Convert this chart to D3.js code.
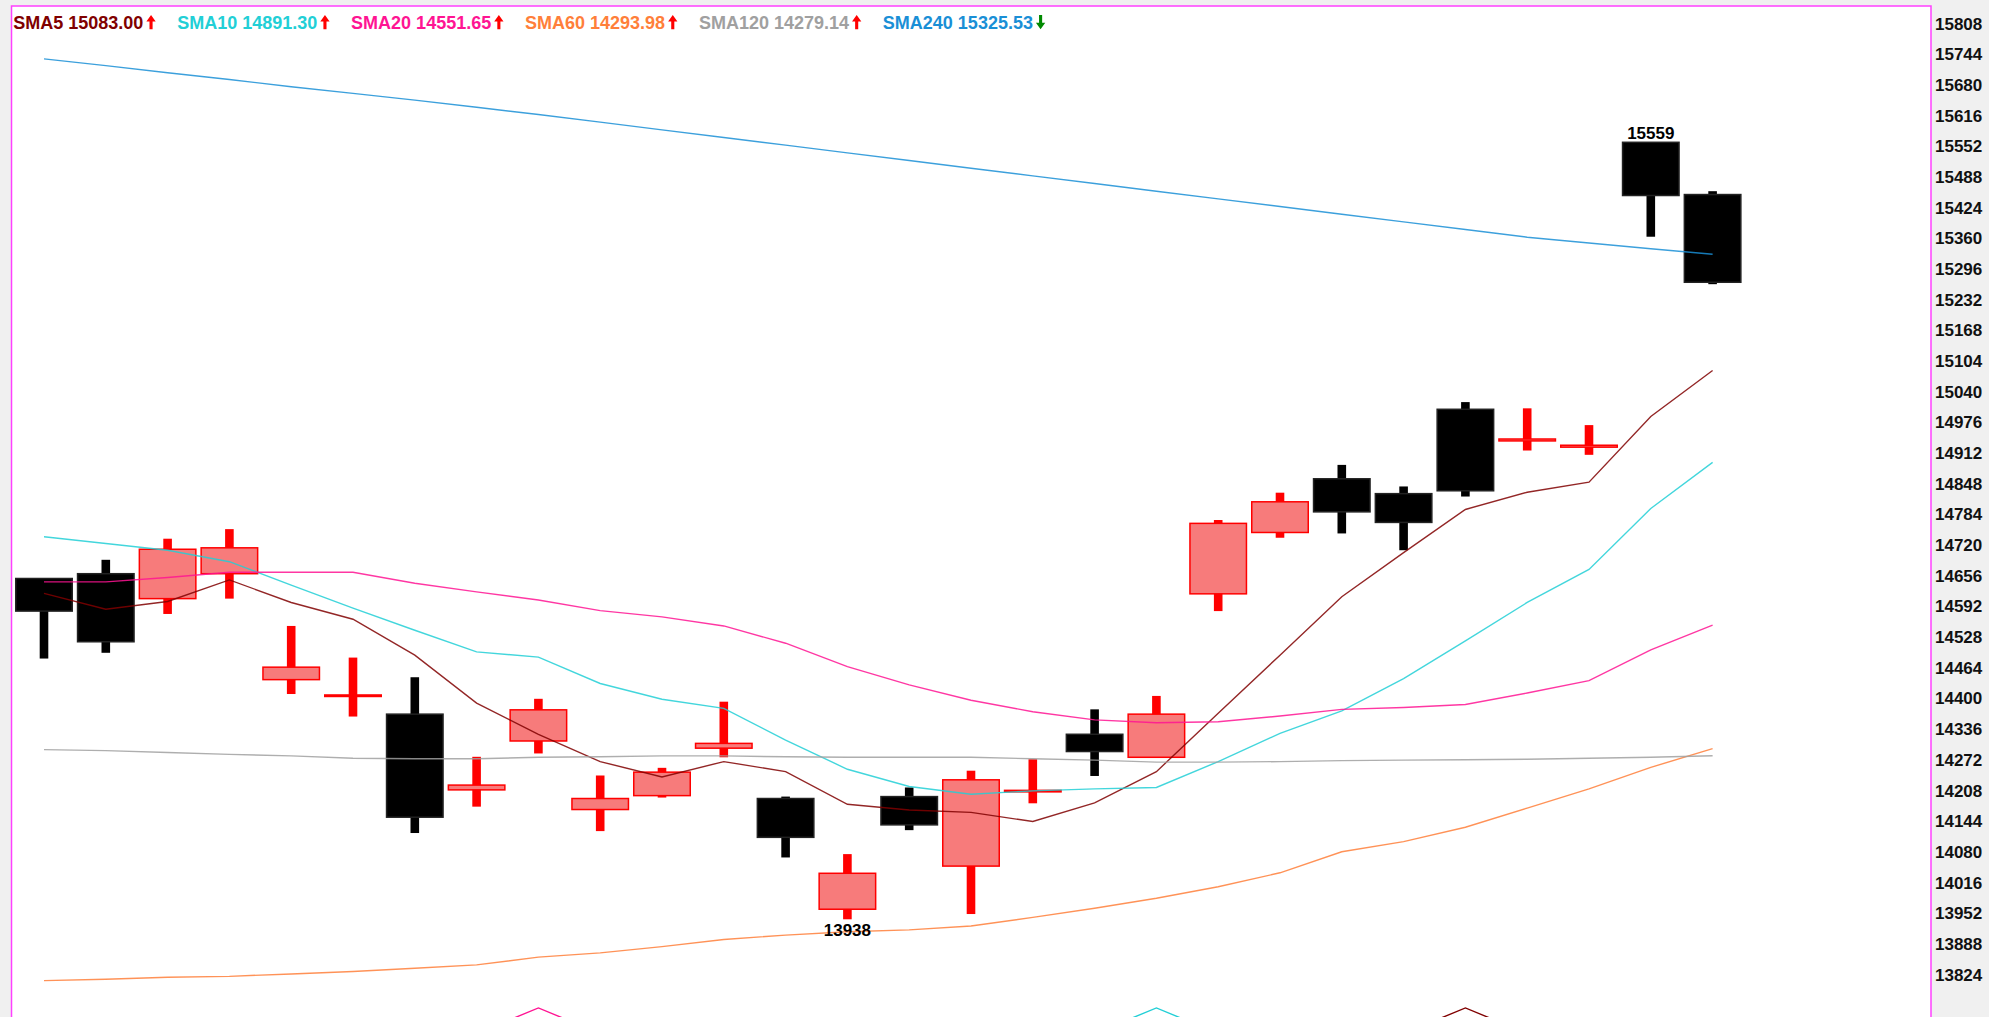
<!DOCTYPE html>
<html><head><meta charset="utf-8">
<script src="https://cdn.jsdelivr.net/npm/d3@7"></script>
<style>html,body{margin:0;padding:0;background:#f0f0f0;overflow:hidden}svg{display:block}</style>
</head><body>
<svg id="chart" width="1989" height="1017"></svg>
<script>
// ---------------- data ----------------
const days = ["1","2","3","4","5","6","7","8","9","10","11","12","13","14","15","16","17","18","19","20","21","22","23","24","25","26","27","28"];
const open  = [14649,14659,14607,14659,14438,14403,14366,14208,14310,14167,14196,14295,14190,13959,14194,14049,14204,14324,14276,14617,14745,14857,14826,15002,14936,14923,15559,15450];
const high  = [14649,14688,14732,14752,14550,14484,14443,14277,14398,14238,14254,14392,14194,14074,14213,14248,14272,14376,14404,14771,14828,14886,14841,15017,15004,14969,15559,15457];
const low   = [14482,14494,14575,14607,14408,14361,14118,14173,14284,14122,14192,14276,14067,13938,14124,13949,14180,14237,14276,14581,14734,14743,14708,14820,14916,14907,15362,15263];
const close = [14581,14517,14710,14713,14464,14406,14151,14218,14375,14190,14245,14305,14109,14034,14135,14229,14207,14288,14366,14764,14809,14788,14766,14832,14940,14927,15448,15267];

const sma5   = [14618,14585,14601,14646,14599,14564,14489,14389,14324,14267,14235,14267,14246,14178,14166,14161,14142,14181,14246,14368,14489,14611,14703,14793,14829,14850,14987,15083.00];
const sma10  = [14736,14722,14708,14684,14635,14587,14541,14496,14485,14430,14397,14378,14312,14251,14215,14199,14206,14210,14213,14267,14326,14373,14440,14519,14599,14668,14795,14891.30];
const sma20  = [14642,14642,14651,14662,14662,14662,14639,14621,14604,14582,14569,14550,14514,14465,14427,14395,14371,14354,14348,14350,14362,14376,14380,14386,14410,14436,14500,14551.65];
const sma60  = [13810,13813,13817,13819,13824,13829,13836,13843,13859,13868,13881,13896,13905,13912,13916,13924,13942,13961,13982,14006,14035,14079,14100,14130,14170,14210,14255,14293.98];
const sma120 = [14292,14290,14286,14282,14279,14274,14273,14273,14276,14277,14279,14279,14277,14276,14276,14276,14273,14270,14266,14266,14267,14269,14270,14271,14272,14274,14276,14279.14];
const sma240 = [15733,15719,15704,15690,15675,15661,15647,15632,15617,15601,15585,15569,15553,15537,15521,15505,15489,15473,15457,15441,15425,15409,15393,15377,15361,15349,15337,15325.53];

const maNames = ["SMA5","SMA10","SMA20","SMA60","SMA120","SMA240"];
const maSeries = [sma5, sma10, sma20, sma60, sma120, sma240];

// short pieces of lines from below the panel that peek into view
const peekDays5  = ["23","24","25"]; const peek5  = [13700,13753,13700];
const peekDays10 = ["18","19","20"]; const peek10 = [13700,13753,13700];
const peekDays20 = ["8","9","10"];   const peek20 = [13700,13753,13700];

const yTicks = d3.range(13824, 15809, 64);

// ---------------- styles ----------------
const maColors = ["#800000","#22cfd6","#ff1493","#ff7f3a","#a0a0a0","#1a8fd6"];
const upFill = "#f77b7b", upStroke = "#ff0000", downFill = "#000000";

// ---------------- drawing ----------------
const W = 1989, H = 1017;
const plot = {x0: 11.5, y0: 6, x1: 1931, y1: 1100};
const svg = d3.select("#chart");

svg.append("rect").attr("x",0).attr("y",0).attr("width",W).attr("height",H).attr("fill","#f0f0f0");
svg.append("rect").attr("x",plot.x0).attr("y",plot.y0).attr("width",plot.x1-plot.x0).attr("height",plot.y1-plot.y0).attr("fill","#ffffff");

svg.append("defs").append("clipPath").attr("id","pc")
  .append("rect").attr("x",plot.x0).attr("y",plot.y0).attr("width",plot.x1-plot.x0).attr("height",plot.y1-plot.y0);

const x = d3.scaleBand().domain(days).range([13.1, 1743.5]).paddingInner(0.0615).paddingOuter(0.03075);
const cx = d => x(d) + x.bandwidth()/2;
const y = d3.scaleLinear().domain([13938, 15559]).range([919.3, 142.3]);

const g = svg.append("g").attr("clip-path","url(#pc)");

const candles = days.map((d,i)=>({d, o:open[i], h:high[i], l:low[i], c:close[i]}));
const wickW = 8.6;

// wicks
g.selectAll("rect.wick").data(candles).join("rect").attr("class","wick")
  .attr("x", k => cx(k.d) - wickW/2)
  .attr("y", k => y(k.h))
  .attr("width", wickW)
  .attr("height", k => Math.max(1, y(k.l) - y(k.h)))
  .attr("fill", k => k.c >= k.o ? upStroke : downFill);

// bodies
g.selectAll("rect.body").data(candles).join("rect").attr("class","body")
  .attr("x", k => x(k.d) + 0.75)
  .attr("y", k => y(Math.max(k.o,k.c)))
  .attr("width", x.bandwidth() - 1.5)
  .attr("height", k => Math.max(1.5, Math.abs(y(k.o) - y(k.c))))
  .attr("fill", k => k.c >= k.o ? upFill : downFill)
  .attr("stroke", k => k.c >= k.o ? upStroke : "#222")
  .attr("stroke-width", 1.5);

// moving averages
const line = d3.line().x(p => cx(p[0])).y(p => y(p[1]));
maSeries.forEach((s, j) => {
  g.append("path").datum(days.map((d,i)=>[d, s[i]]))
    .attr("d", line).attr("fill","none")
    .attr("stroke", maColors[j]).attr("stroke-width", 1.4).attr("stroke-opacity", 0.85);
});

// peeking lines
[[peekDays20, peek20, 2],[peekDays10, peek10, 1],[peekDays5, peek5, 0]].forEach(([dd, vv, j]) => {
  g.append("path").datum(dd.map((d,i)=>[d, vv[i]]))
    .attr("d", line).attr("fill","none")
    .attr("stroke", maColors[j]).attr("stroke-width", 1.4);
});

// highest / lowest labels
const iMax = d3.maxIndex(high), iMin = d3.minIndex(low);
svg.append("text").attr("x", cx(days[iMax])).attr("y", y(high[iMax]) - 3)
  .attr("text-anchor","middle").attr("font-family","Liberation Sans, Arial, sans-serif")
  .attr("font-weight","bold").attr("font-size",17).attr("fill","#000").text(d3.format("d")(high[iMax]));
svg.append("text").attr("x", cx(days[iMin])).attr("y", y(low[iMin]) + 16.5)
  .attr("text-anchor","middle").attr("font-family","Liberation Sans, Arial, sans-serif")
  .attr("font-weight","bold").attr("font-size",17).attr("fill","#000").text(d3.format("d")(low[iMin]));

// border
svg.append("rect").attr("x",plot.x0).attr("y",plot.y0).attr("width",plot.x1-plot.x0).attr("height",plot.y1-plot.y0)
  .attr("fill","none").attr("stroke","#ff40ff").attr("stroke-width",1.5);

// right axis
const axis = d3.axisRight(y).tickValues(yTicks).tickSize(0).tickPadding(0).tickFormat(d3.format("d"));
const ax = svg.append("g").attr("transform", `translate(1935,0)`).call(axis);
ax.select(".domain").remove();
ax.selectAll("text").attr("x",0).attr("dy","0.36em")
  .attr("font-family","Liberation Sans, Arial, sans-serif").attr("font-weight","bold")
  .attr("font-size",17).attr("fill","#111");

// legend
let lx = 13.3;
maNames.forEach((nm, j) => {
  const s = maSeries[j];
  const last = s[s.length-1], prev = s[s.length-2];
  const t = svg.append("text").attr("x", lx).attr("y", 29.3)
    .attr("font-family","Liberation Sans, Arial, sans-serif").attr("font-weight","bold")
    .attr("font-size",18).attr("fill", maColors[j])
    .text(nm + " " + d3.format(".2f")(last));
  const tw = t.node().getComputedTextLength();
  const ax0 = lx + tw + 3;
  const up = last >= prev;
  const p = d3.path();
  if (up) {
    p.moveTo(ax0 + 4.65, 15); p.lineTo(ax0 + 9.3, 21.5); p.lineTo(ax0 + 6.2, 21.5);
    p.lineTo(ax0 + 6.2, 29.3); p.lineTo(ax0 + 3.1, 29.3); p.lineTo(ax0 + 3.1, 21.5);
    p.lineTo(ax0, 21.5); p.closePath();
  } else {
    p.moveTo(ax0 + 3.1, 15); p.lineTo(ax0 + 6.2, 15); p.lineTo(ax0 + 6.2, 22.8);
    p.lineTo(ax0 + 9.3, 22.8); p.lineTo(ax0 + 4.65, 29.3); p.lineTo(ax0, 22.8);
    p.lineTo(ax0 + 3.1, 22.8); p.closePath();
  }
  svg.append("path").attr("d", p.toString()).attr("fill", up ? "#ff0000" : "#008a00");
  lx = ax0 + 9.3 + 21.5;
});
</script>
</body></html>
